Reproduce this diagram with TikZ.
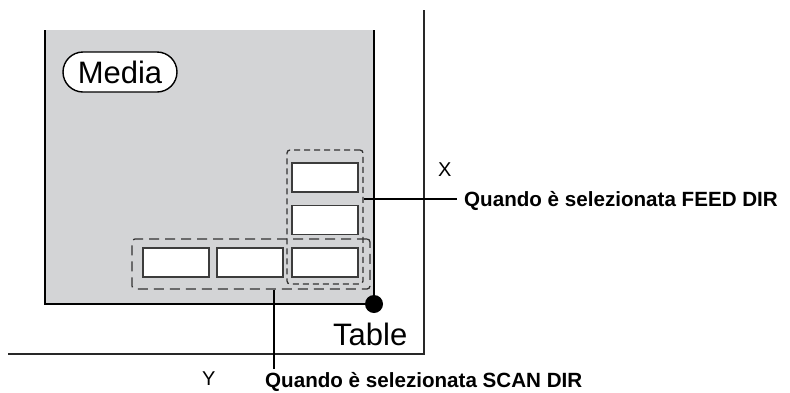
\documentclass[tikz,border=0pt]{standalone}
\usepackage{fontspec}
\setmainfont{Liberation Sans}
\begin{document}
\begin{tikzpicture}[x=1pt,y=-1pt,
  mediafill/.style={fill=mediagray},
  slot/.style={draw=slotgray,line width=1.5pt,fill=white,minimum width=66pt,minimum height=29pt,inner sep=0pt},
  feedbox/.style={draw=dashgray,line width=1.3pt,dash pattern=on 6pt off 4pt,rounded corners=3pt,minimum width=76pt,minimum height=134pt,inner sep=0pt},
  scanbox/.style={draw=dashgray,line width=1.3pt,dash pattern=on 10pt off 6pt,rounded corners=3pt,minimum width=238pt,minimum height=50pt,inner sep=0pt},
  tableline/.style={draw=tablegray,line width=1.8pt},
  leader/.style={line width=2.7pt},
  biglbl/.style={font=\fontsize{31}{33}\selectfont},
  axislbl/.style={font=\fontsize{20}{22}\selectfont,inner sep=0pt},
  boldlbl/.style={font=\fontsize{20.6}{22}\selectfont\bfseries,inner sep=0pt}
]
\definecolor{mediagray}{RGB}{211,212,214}
\definecolor{slotgray}{RGB}{60,60,60}
\definecolor{dashgray}{RGB}{50,50,50}
\definecolor{tablegray}{RGB}{40,40,40}
\useasboundingbox (0,0) rectangle (790,392);
% table lines
\draw[tableline] (424,10) -- (424,354) -- (8,354);
% media sheet
\fill[mediafill] (45,30) rectangle (374,304);
\draw[line width=2.3pt] (45,30) -- (45,304) -- (374,304) -- (374,30);
\node[draw,line width=1.4pt,fill=white,rounded corners=20pt,minimum width=114pt,minimum height=40pt,inner sep=0pt,biglbl] (media) at (120,72) {Media};
% slots
\node[slot] (r1) at (325,177.5) {};
\node[slot] (r2) at (325,220) {};
\node[slot] (r3) at (325,262.5) {};
\node[slot] (r4) at (176,262.5) {};
\node[slot] (r5) at (250,262.5) {};
% dashed groups
\node[feedbox] (feed) at (325,217) {};
\node[scanbox] (scan) at (251,264) {};
% dot
\fill (374,304) circle[radius=9pt];
\coordinate (dot) at (374,304);
% labels
\node[biglbl,anchor=base west,inner sep=0pt] (table) at (333,345) {Table};
\node[axislbl,anchor=base west] (xl) at (438,176) {X};
\node[axislbl,anchor=base west] (yl) at (202,385) {Y};
\node[boldlbl,anchor=base west] (flbl) at (464,206) {Quando è selezionata FEED DIR};
\node[boldlbl,anchor=base west] (slbl) at (265,387) {Quando è selezionata SCAN DIR};
% leaders
\coordinate (fb) at (457,199);
\coordinate (sb) at (274,369);
\draw[leader] (feed.east |- fb) -- (fb);
\draw[leader] (scan.south -| sb) -- (sb);
\end{tikzpicture}
\end{document}
